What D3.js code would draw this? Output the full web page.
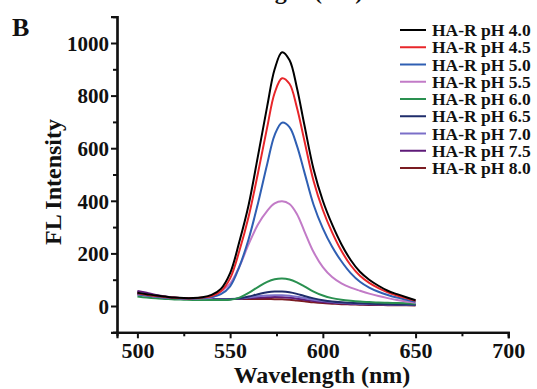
<!DOCTYPE html>
<html>
<head>
<meta charset="utf-8">
<script src="https://cdn.jsdelivr.net/npm/d3@7"></script>
<style>
body{margin:0;background:#fff;}
text{font-family:"Liberation Serif","Times New Roman",serif;font-weight:bold;fill:#111;}
</style>
</head>
<body>
<script>
var wavelength=[500,505,510,515,520,525,530,535,540,545,550,555,560,565,570,574,578,582,586,590,595,600,605,610,615,620,625,630,635,640,645,650];

var ph40=[50,45,40,36,32,30,30,33,42,65,125,245,385,570,760,900,965,935,830,690,520,400,310,235,175,130,100,77,58,45,33,22];
var ph45=[48,43,38,34,31,29,29,32,38,56,105,210,340,505,680,810,866,845,755,630,475,365,280,210,155,115,88,68,52,40,30,20];
var ph50=[45,40,36,32,30,28,28,30,34,45,75,150,255,390,540,650,697,680,610,510,385,295,225,170,125,92,70,54,42,32,24,16];
var ph55=[45,40,36,32,30,28,28,29,32,55,85,150,235,310,362,390,398,388,350,285,205,148,110,86,70,58,47,38,30,23,17,12];
var ph60=[36,32,29,27,25,24,23,23,23,23,24,32,50,72,92,102,105,101,90,75,55,40,30,24,20,17,15,13,12,11,10,9];
var ph65=[45,40,36,32,29,27,26,25,25,25,26,29,36,45,52,55,55,52,46,38,29,22,17,14,12,10,9,8,7,6,6,5];
var ph70=[50,44,38,33,30,28,27,26,26,26,27,29,33,37,40,41,41,39,35,30,24,19,15,12,10,9,8,7,6,6,5,5];
var ph75=[57,50,42,36,32,29,28,27,27,27,27,28,30,32,33,34,33,31,28,24,19,15,12,10,8,7,6,6,5,5,4,4];
var ph80=[52,46,40,35,31,29,28,27,27,27,27,27,27,27,27,26,26,24,21,18,14,11,9,7,6,5,4,4,3,3,3,2];

var labels=["HA-R pH 4.0","HA-R pH 4.5","HA-R pH 5.0","HA-R pH 5.5","HA-R pH 6.0","HA-R pH 6.5","HA-R pH 7.0","HA-R pH 7.5","HA-R pH 8.0"];
var colors=["#000000","#e8262a","#2f5fb3","#c27bc7","#2a9050","#1f2d6b","#7b6fc8","#5e1a78","#7b1c22"];
var xTicks=[500,550,600,650,700];
var yTicks=[0,200,400,600,800,1000];

var series=[ph40,ph45,ph50,ph55,ph60,ph65,ph70,ph75,ph80];

var width=537;
var height=389;
var svg=d3.select("body")
    .append("svg")
    .attr("width",width)
    .attr("height",height);

var x=d3.scaleLinear().domain([489,700]).range([117,508.3]);
var y=d3.scaleLinear().domain([-100,1100]).range([332.3,16.7]);

// cut-off title of the panel above
svg.append("text")
    .attr("x",275)
    .attr("y",-1)
    .attr("text-anchor","middle")
    .attr("font-size","24px")
    .text("Wavelength (nm)");

svg.append("text")
    .attr("x",12)
    .attr("y",36)
    .attr("font-size","26px")
    .text("B");

// curves, last series drawn first so the black one is on top
var line=d3.line()
    .x(function(d,i){return x(wavelength[i]);})
    .y(function(d){return y(d);})
    .curve(d3.curveCatmullRom.alpha(0.5));

svg.selectAll("path.curve")
    .data(series.slice().reverse())
    .enter()
    .append("path")
    .attr("class","curve")
    .attr("fill","none")
    .attr("stroke",function(d,i){return colors[series.length-1-i];})
    .attr("stroke-width",2)
    .attr("d",line);

// axes
var xAxis=d3.axisBottom(x).tickValues(xTicks).tickSize(6).tickPadding(4).tickFormat(d3.format("d"));
var xMinor=d3.axisBottom(x).tickValues([525,575,625,675]).tickSize(4).tickFormat("");
var yAxis=d3.axisLeft(y).tickValues(yTicks).tickSize(6).tickPadding(2).tickFormat(d3.format("d"));
var yMinor=d3.axisLeft(y).tickValues([-100,100,300,500,700,900]).tickSize(4).tickFormat("");

var gx=svg.append("g").attr("transform","translate(0,"+y(-100)+")").call(xAxis);
svg.append("g").attr("transform","translate(0,"+y(-100)+")").call(xMinor);
var gy=svg.append("g").attr("transform","translate("+x(489)+",0)").call(yAxis);
svg.append("g").attr("transform","translate("+x(489)+",0)").call(yMinor);

svg.selectAll(".domain").attr("stroke","#111").attr("stroke-width",2.2);
svg.selectAll(".tick line").attr("stroke","#111").attr("stroke-width",2);
gx.selectAll("text").attr("font-size","22px").attr("font-family","Liberation Serif").attr("font-weight","bold").attr("fill","#111");
gy.selectAll("text").attr("font-size","21px").attr("font-family","Liberation Serif").attr("font-weight","bold").attr("fill","#111").attr("dy","0.35em");

svg.append("text")
    .attr("x",322)
    .attr("y",383)
    .attr("text-anchor","middle")
    .attr("font-size","24px")
    .text("Wavelength (nm)");

svg.append("text")
    .attr("transform","translate(61,182) rotate(-90)")
    .attr("text-anchor","middle")
    .attr("font-size","24px")
    .text("FL Intensity");

// legend
var legend=svg.selectAll("g.legend")
    .data(labels)
    .enter()
    .append("g")
    .attr("class","legend")
    .attr("transform",function(d,i){return "translate(400,"+(30+i*17.25)+")";});

legend.append("line")
    .attr("x1",0)
    .attr("x2",26)
    .attr("stroke",function(d,i){return colors[i];})
    .attr("stroke-width",2);

legend.append("text")
    .attr("x",32)
    .attr("dy","0.35em")
    .attr("font-size","17.5px")
    .text(function(d){return d;});
</script>
</body>
</html>
